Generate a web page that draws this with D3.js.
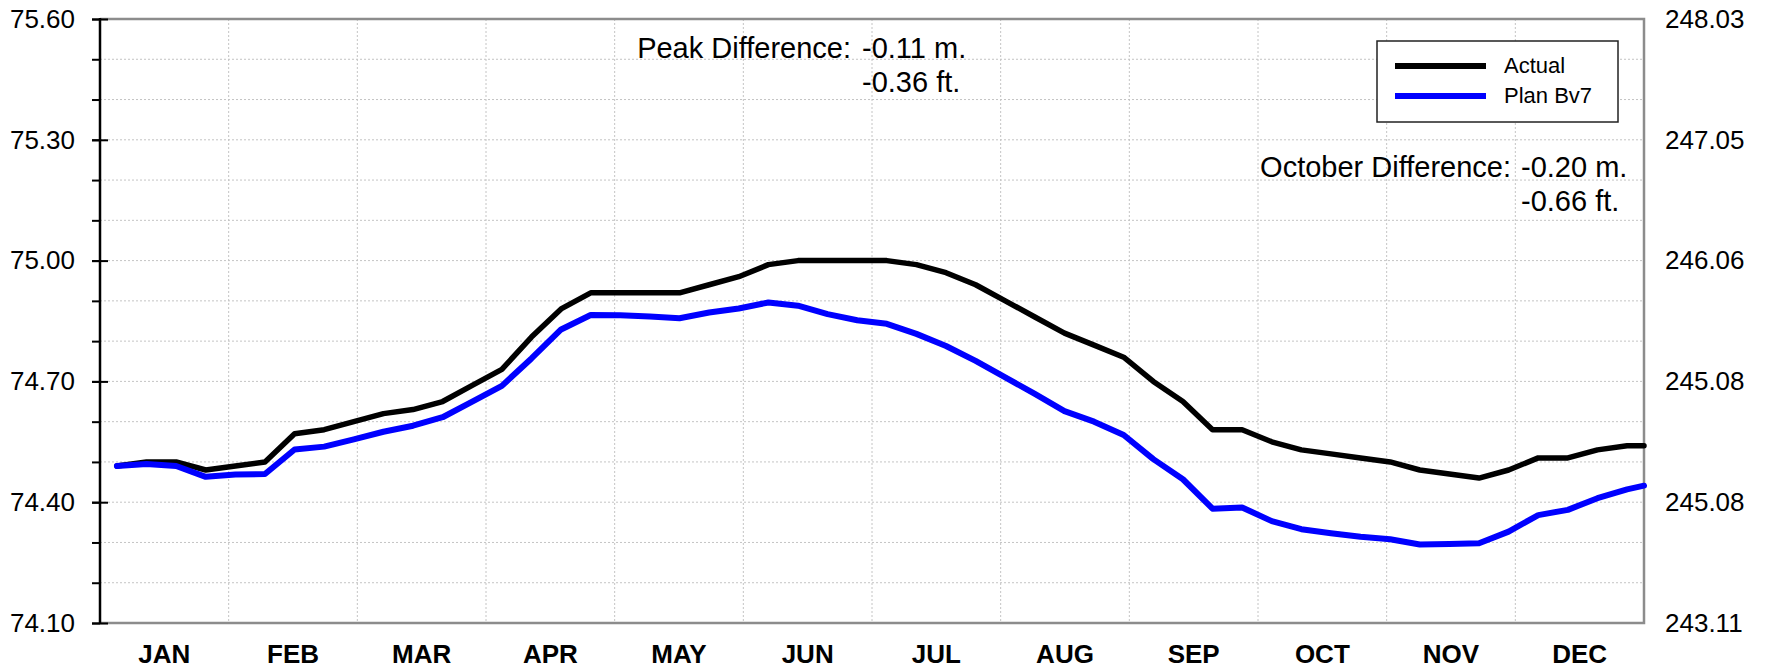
<!DOCTYPE html>
<html>
<head>
<meta charset="utf-8">
<script src="https://cdn.jsdelivr.net/npm/d3@7"></script>
<style>
  html, body { margin: 0; padding: 0; background: #fff; }
  svg { display: block; font-family: Arial, "Liberation Sans", sans-serif; }
</style>
</head>
<body>
<svg id="chart" width="1770" height="671"></svg>
<script>
// day of year for each weekly reading
const weekDays = [4, 11, 18, 25, 32, 39, 46, 53, 60, 67, 74, 81, 88, 95, 102, 109, 116, 123,
  130, 137, 144, 151, 158, 165, 172, 179, 186, 193, 200, 207, 214, 221, 228, 235, 242, 249,
  256, 263, 270, 277, 284, 291, 298, 305, 312, 319, 326, 333, 340, 347, 354, 361, 365];

const actual = [74.49, 74.50, 74.50, 74.48, 74.49, 74.50, 74.57, 74.58, 74.60, 74.62, 74.63,
  74.65, 74.69, 74.73, 74.81, 74.88, 74.92, 74.92, 74.92, 74.92, 74.94, 74.96, 74.99, 75.00,
  75.00, 75.00, 75.00, 74.99, 74.97, 74.94, 74.90, 74.86, 74.82, 74.79, 74.76, 74.70, 74.65,
  74.58, 74.58, 74.55, 74.53, 74.52, 74.51, 74.50, 74.48, 74.47, 74.46, 74.48, 74.51, 74.51,
  74.53, 74.54, 74.54];

const planBv7 = [74.490, 74.495, 74.490, 74.463, 74.469, 74.470, 74.531, 74.538, 74.556, 74.575,
  74.590, 74.611, 74.650, 74.689, 74.757, 74.829, 74.865, 74.864, 74.861, 74.857, 74.871,
  74.881, 74.896, 74.888, 74.867, 74.852, 74.843, 74.818, 74.788, 74.751, 74.710, 74.669,
  74.626, 74.600, 74.567, 74.507, 74.457, 74.384, 74.387, 74.353, 74.333, 74.323, 74.314,
  74.308, 74.295, 74.296, 74.298, 74.327, 74.368, 74.381, 74.410, 74.432, 74.441];

const months = ['JAN', 'FEB', 'MAR', 'APR', 'MAY', 'JUN', 'JUL', 'AUG', 'SEP', 'OCT', 'NOV', 'DEC'];
const leftTicks = [74.10, 74.40, 74.70, 75.00, 75.30, 75.60];
const rightLabels = ['243.11', '245.08', '245.08', '246.06', '247.05', '248.03'];
const minorTicks = [74.1, 74.2, 74.3, 74.4, 74.5, 74.6, 74.7, 74.8, 74.9, 75.0, 75.1, 75.2, 75.3, 75.4, 75.5, 75.6];

const series = [
  { name: 'Actual', values: actual, color: '#000000', width: 5.5 },
  { name: 'Plan Bv7', values: planBv7, color: '#0000ff', width: 6 }
];

const margin = { top: 19, right: 126, bottom: 48, left: 100 };
const W = 1770, H = 671;
const width = W - margin.left - margin.right;
const height = H - margin.top - margin.bottom;

const svg = d3.select('#chart');
const g = svg.append('g').attr('transform', `translate(${margin.left},${margin.top})`);

const x = d3.scaleLinear().domain([0, 365]).range([0, width]);
const xm = d3.scaleBand().domain(months).range([0, width]);
const y = d3.scaleLinear().domain([74.10, 75.60]).range([height, 0]);

// gridlines
g.append('g')
  .selectAll('line')
  .data(minorTicks.slice(1, -1))
  .join('line')
  .attr('x1', 0).attr('x2', width)
  .attr('y1', d => y(d)).attr('y2', d => y(d))
  .attr('stroke', '#c4c4c4').attr('stroke-width', 1).attr('stroke-dasharray', '2,2');

g.append('g')
  .selectAll('line')
  .data(months.slice(1))
  .join('line')
  .attr('x1', d => xm(d)).attr('x2', d => xm(d))
  .attr('y1', 0).attr('y2', height)
  .attr('stroke', '#c4c4c4').attr('stroke-width', 1).attr('stroke-dasharray', '2,2');

// frame: top, right and bottom in grey
g.append('path')
  .attr('d', `M0,0H${width}V${height}H0`)
  .attr('fill', 'none').attr('stroke', '#8c8c8c').attr('stroke-width', 2.5);

// series lines
const line = d3.line()
  .x((d, i) => x(weekDays[i]))
  .y(d => y(d));

g.append('g')
  .selectAll('path')
  .data(series)
  .join('path')
  .attr('d', d => line(d.values))
  .attr('fill', 'none')
  .attr('stroke', d => d.color)
  .attr('stroke-width', d => d.width)
  .attr('stroke-linejoin', 'round')
  .attr('stroke-linecap', 'round');

// left axis
const minorAxis = g.append('g')
  .call(d3.axisLeft(y).tickValues(minorTicks).tickSize(8).tickFormat(''));
minorAxis.select('.domain').remove();
minorAxis.selectAll('line').attr('stroke', '#000').attr('stroke-width', 2);

const leftAxis = g.append('g')
  .call(d3.axisLeft(y).tickValues(leftTicks).tickSize(8).tickPadding(17).tickFormat(d3.format('.2f')));
leftAxis.select('.domain').remove();
leftAxis.selectAll('.tick line').attr('x1', 8).attr('x2', -8).attr('stroke', '#000').attr('stroke-width', 2);
leftAxis.selectAll('text').attr('font-size', 26).attr('fill', '#000')
  .attr('font-family', 'Arial, "Liberation Sans", sans-serif');

g.append('line')
  .attr('x1', 0).attr('x2', 0).attr('y1', -1).attr('y2', height + 1)
  .attr('stroke', '#000').attr('stroke-width', 2.5);

// right axis (feet)
const rightAxis = g.append('g')
  .attr('transform', `translate(${width},0)`)
  .call(d3.axisRight(y).tickValues(leftTicks).tickSize(0).tickPadding(21)
    .tickFormat((d, i) => rightLabels[i]));
rightAxis.select('.domain').remove();
rightAxis.selectAll('text').attr('font-size', 26).attr('fill', '#000')
  .attr('font-family', 'Arial, "Liberation Sans", sans-serif');

// month labels
g.append('g')
  .selectAll('text')
  .data(months)
  .join('text')
  .attr('x', d => xm(d) + xm.bandwidth() / 2)
  .attr('y', height + 40)
  .attr('text-anchor', 'middle')
  .attr('font-size', 26)
  .attr('font-weight', 'bold')
  .text(d => d);

// difference notes
function note(lx, vx, y0, label, v1, v2) {
  const t = svg.append('g').attr('font-size', 29).attr('fill', '#000');
  t.append('text').attr('x', lx).attr('y', y0).attr('text-anchor', 'end').text(label);
  t.append('text').attr('x', vx).attr('y', y0).text(v1);
  t.append('text').attr('x', vx).attr('y', y0 + 34).text(v2);
}
note(851, 862, 58, 'Peak Difference:', '-0.11 m.', '-0.36 ft.');
note(1511, 1521, 177, 'October Difference:', '-0.20 m.', '-0.66 ft.');

// legend
const lg = svg.append('g').attr('transform', 'translate(1377,41)');
lg.append('rect')
  .attr('width', 241).attr('height', 81)
  .attr('fill', '#fff').attr('stroke', '#222').attr('stroke-width', 1.5);
series.forEach((s, i) => {
  const yy = 25 + i * 30;
  lg.append('line')
    .attr('x1', 18).attr('x2', 109).attr('y1', yy).attr('y2', yy)
    .attr('stroke', s.color).attr('stroke-width', 6);
  lg.append('text')
    .attr('x', 127).attr('y', yy + 7)
    .attr('font-size', 22)
    .text(s.name);
});
</script>
</body>
</html>
